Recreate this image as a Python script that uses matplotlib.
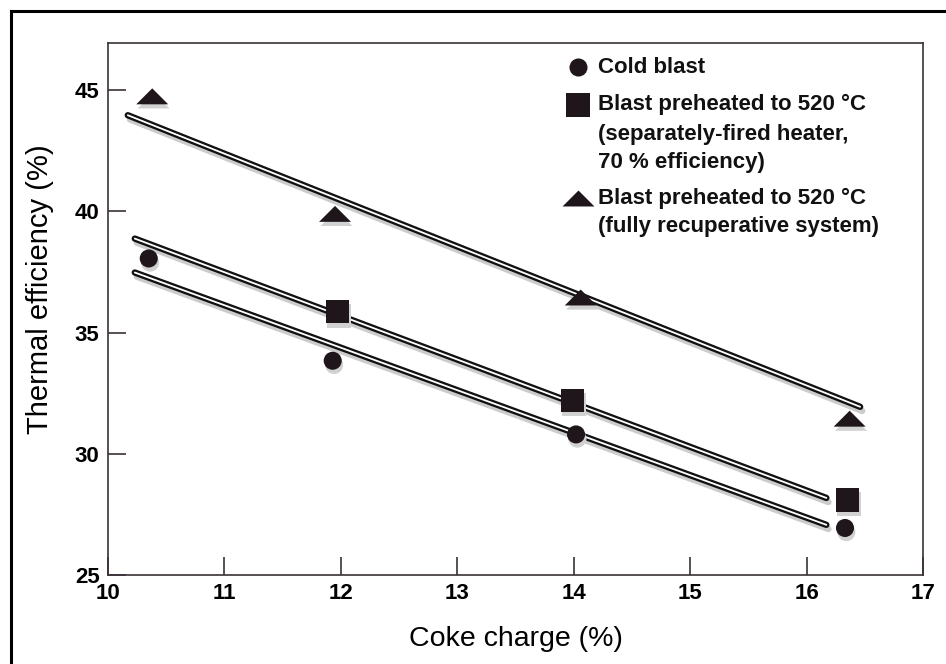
import matplotlib
matplotlib.use('Agg')
import matplotlib.pyplot as plt
import matplotlib.patheffects as pe
from matplotlib.lines import Line2D

# measured points
cold_x = [10.35, 11.93, 14.02, 16.33]
cold_y = [38.06, 33.84, 30.8, 26.94]
sep_x = [11.97, 13.99, 16.35]
sep_y = [35.87, 32.2, 28.1]
rec_x = [10.38, 11.95, 14.06, 16.37]
rec_y = [44.75, 39.9, 36.45, 31.45]

# fitted lines (end points)
cold_fit_x = [10.23, 16.17]
cold_fit_y = [37.48, 27.07]
sep_fit_x = [10.23, 16.17]
sep_fit_y = [38.88, 28.18]
rec_fit_x = [10.17, 16.46]
rec_fit_y = [43.97, 31.94]

x_ticks = [10, 11, 12, 13, 14, 15, 16, 17]
y_ticks = [25, 30, 35, 40, 45]

legend_lines = [
    ('o', ['Cold blast']),
    ('s', ['Blast preheated to 520 \u00b0C', '(separately-fired heater,', '70 % efficiency)']),
    ('tri', ['Blast preheated to 520 \u00b0C', '(fully recuperative system)']),
]

sans = ['Liberation Sans', 'DejaVu Sans']

tri = [(-1, -0.5), (1, -0.5), (0, 0.5)]
markers = {'o': ('o', 13), 's': ('s', 17), 'tri': (tri, 23)}

fig = plt.figure(figsize=(9.46, 6.64), dpi=100)
ax = fig.add_axes([108 / 946, 1 - 575 / 664, 815 / 946, 532 / 664])

# figure frame (left and top only visible)
fig.add_artist(Line2D([11 / 946, 11 / 946], [0, 1 - 11 / 664], transform=fig.transFigure, color='black', lw=2.2))
fig.add_artist(Line2D([11 / 946, 1], [1 - 11 / 664, 1 - 11 / 664], transform=fig.transFigure, color='black', lw=2.2))

line_fx = [pe.SimpleLineShadow(offset=(1.5, -3), shadow_color='0.8', alpha=1), pe.Normal()]
mark_fx = [pe.SimplePatchShadow(offset=(1, -3), shadow_rgbFace='0.82', alpha=1), pe.Normal()]

for fx, fy in [(rec_fit_x, rec_fit_y), (sep_fit_x, sep_fit_y), (cold_fit_x, cold_fit_y)]:
    ax.plot(fx, fy, color='#111111', lw=4.6, solid_capstyle='round', path_effects=line_fx, zorder=3)
    ax.plot(fx, fy, color='white', lw=1.3, solid_capstyle='round', zorder=4)

for xs, ys, key in [(cold_x, cold_y, 'o'), (sep_x, sep_y, 's'), (rec_x, rec_y, 'tri')]:
    m, ms = markers[key]
    ax.plot(xs, ys, ls='none', marker=m, ms=ms, color='#1e161b', mew=0,
            path_effects=mark_fx, zorder=5)

# legend drawn by hand
leg_y = [45.95, 44.4, 43.18, 42.02, 40.55, 39.38]
k = 0
for key, texts in legend_lines:
    m, ms = markers[key]
    ax.plot([14.04], [leg_y[k]], ls='none', marker=m, ms=ms, color='#1e161b', mew=0, zorder=5)
    for t in texts:
        ax.text(14.21, leg_y[k], t, fontsize=16, fontweight='bold', family=sans,
                va='center', ha='left', color='#111111')
        k += 1

ax.set_xlim(10, 17)
ax.set_ylim(25, 46.95)
ax.set_xticks(x_ticks)
ax.set_yticks(y_ticks)
ax.tick_params(direction='in', length=13, width=1.2, color='#3a3238')
ax.tick_params(axis='x', pad=6)
ax.tick_params(axis='y', pad=6)
for lab in ax.get_xticklabels() + ax.get_yticklabels():
    lab.set_family(sans)
    lab.set_fontweight('bold')
    lab.set_fontsize(16)
for s in ax.spines.values():
    s.set_color('#3a3238')
    s.set_linewidth(1.2)

ax.set_xlabel('Coke charge (%)', fontsize=20.5, family=sans)
ax.set_ylabel('Thermal efficiency (%)', fontsize=21, family=sans)
ax.xaxis.set_label_coords(0.5, -0.095)
ax.yaxis.set_label_coords(-0.066, 0.538)

fig.savefig('out.png', dpi=100)
